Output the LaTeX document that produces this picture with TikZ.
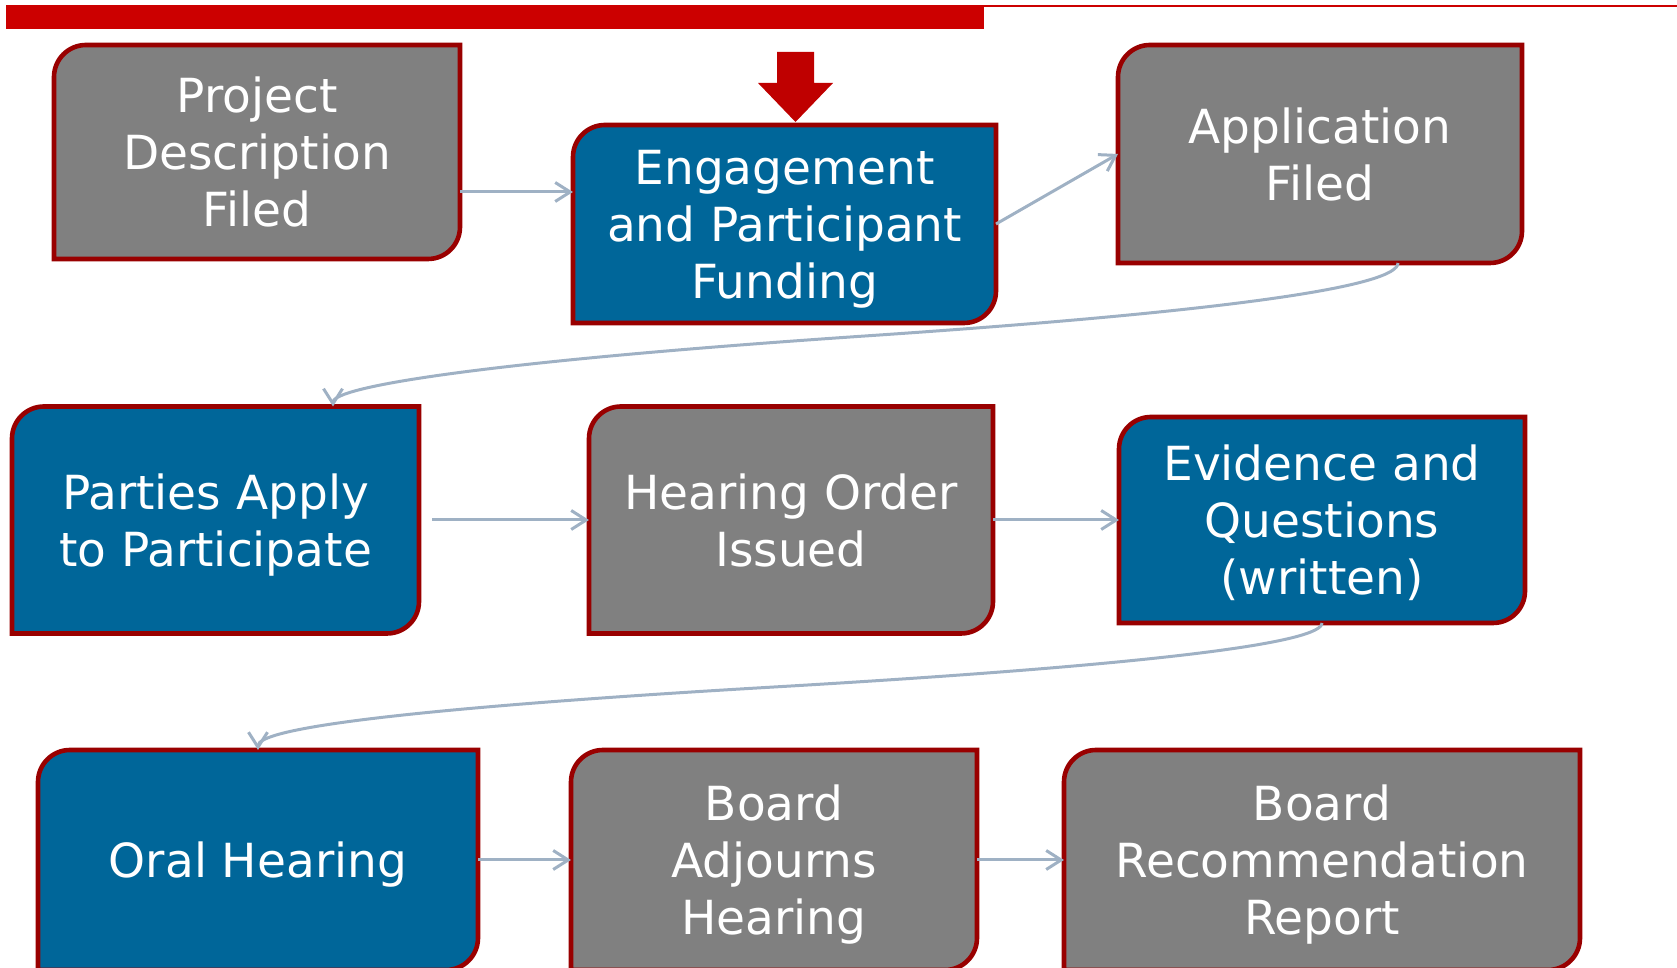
\documentclass[tikz,border=0pt]{standalone}
\usepackage{fontspec}
\setmainfont{DejaVu Sans}
\usepackage{tikz}
\usepackage{xcolor}
\usetikzlibrary{
    arrows.meta,
    backgrounds,
    calc
}
\definecolor{boxgray}{HTML}{808080}
\definecolor{boxblue}{HTML}{006699}
\definecolor{framered}{HTML}{990000}
\definecolor{barred}{HTML}{CC0000}
\definecolor{flowgray}{HTML}{9FB1C4}

\begin{document}
\begin{tikzpicture}[x=0.5pt, y=0.5pt,
    box/.style={inner sep=0pt, outer sep=0pt, text=white, align=center, text depth=0pt,
        font=\fontsize{23.5}{28.5}\selectfont},
    flow/.style={flowgray, line width=1.5pt},
    >={Straight Barb[length=7.5pt, width=9.5pt]}]
                        \useasboundingbox (0,0) rectangle (1677,968);

                        % top bar
                        \fill[barred] (6,961) rectangle (1677,963);
                        \fill[barred] (6,939) rectangle (984,963);
                        \fill[red!75!black] (777,916) -- (814,916) -- (814,885) -- (833,885)
                            -- (795.5,846) -- (758,885) -- (777,885) -- cycle;

                        \node[box, minimum width=203pt, minimum height=107pt] (pdf) at (257, 816) {Project\\Description\\Filed};
                        \node[box, minimum width=211.5pt, minimum height=99pt] (epf) at (784.5, 744) {Engagement\\and Participant\\Funding};
                        \node[box, minimum width=202pt, minimum height=109pt] (app) at (1320, 814) {Application\\Filed};
                        \node[box, minimum width=203.5pt, minimum height=113.5pt] (par) at (215.5, 448) {Parties Apply\\to Participate};
                        \node[box, minimum width=202pt, minimum height=113.5pt] (hor) at (791, 448) {Hearing Order\\Issued};
                        \node[box, minimum width=203pt, minimum height=103pt] (evq) at (1322, 448) {Evidence and\\Questions\\(written)};
                        \node[box, minimum width=220pt, minimum height=110pt] (orh) at (258, 108) {Oral Hearing};
                        \node[box, minimum width=203pt, minimum height=110pt] (baj) at (774, 108) {Board\\Adjourns\\Hearing};
                        \node[box, minimum width=258pt, minimum height=110pt] (brr) at (1322, 108) {Board\\Recommendation\\Report};

                        \begin{scope}[on background layer]
                        \foreach \n/\c in {pdf/boxgray, epf/boxblue, app/boxgray, par/boxblue, hor/boxgray,
                                           evq/boxblue, orh/boxblue, baj/boxgray, brr/boxgray}
                            \draw[framered, line width=2.3pt, fill=\c]
                            (\n.south west) -- ([yshift=-16pt]\n.north west)
                            arc[start angle=180, end angle=90, radius=16pt]
                            -- (\n.north east) -- ([yshift=16pt]\n.south east)
                            arc[start angle=0, end angle=-90, radius=16pt] -- cycle;
                        \end{scope}

                        \coordinate (bend1) at (865,632);
                        \coordinate (bend2) at (774,281);

                        \draw[flow, ->] (pdf.east |- 0,776) -- (epf.west |- 0,776);
                        \draw[flow, ->] (epf.east) -- (app.west);
                        \draw[flow, ->] (app.south -| 1398,0) .. controls (1398,683) and (1250,658) .. (bend1)
                            .. controls (480,606) and (333,581) .. (par.north -| 333,0);
                        \draw[flow, ->] ([xshift=6.5pt]par.east) -- (hor.west);
                        \draw[flow, ->] (evq.south) .. controls (1322,326) and (1169,304) .. (bend2)
                            .. controls (379,258) and (258,238) .. (orh.north);

                        \draw[flow]
                        (hor) edge[->] (evq)
                        (orh) edge[->] (baj)
                        (baj) edge[->] (brr);
                    \end{tikzpicture}
\end{document}
